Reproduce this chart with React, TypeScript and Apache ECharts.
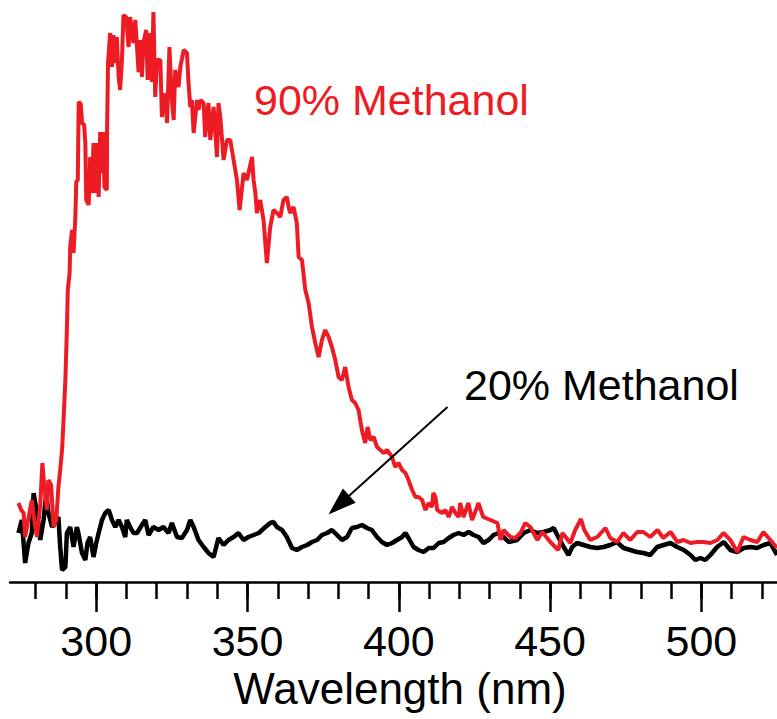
import React, { useEffect, useRef } from "react";
import * as echarts from "echarts";

// Wavelength (nm) and emission intensity (arb. units) — 90% methanol
const wl90 = [274.3, 275.2, 276.0, 276.5, 277.5, 278.7, 279.5, 280.4, 281.5, 282.2, 282.8, 283.7, 284.2, 285.1, 285.9, 286.8, 287.5, 288.1, 288.7, 289.2, 289.8, 290.3, 290.6, 291.2, 291.4, 292.0, 292.5, 293.1, 293.4, 293.9, 294.2, 294.9, 295.3, 296.0, 296.4, 296.7, 297.5, 298.0, 298.6, 299.1, 299.7, 300.4, 300.8, 301.3, 301.9, 302.4, 302.7, 303.5, 303.6, 303.9, 304.6, 305.2, 305.7, 306.3, 306.8, 307.4, 307.9, 308.5, 309.0, 309.9, 310.7, 311.2, 312.3, 312.9, 314.0, 314.5, 315.1, 315.6, 316.5, 317.0, 317.9, 318.4, 318.9, 319.5, 320.1, 321.2, 321.7, 322.8, 323.4, 324.2, 325.0, 325.6, 326.1, 327.2, 327.8, 328.9, 330.0, 330.5, 331.1, 331.6, 332.2, 333.3, 333.8, 334.4, 335.5, 336.0, 337.1, 337.7, 338.8, 339.9, 340.4, 341.0, 342.1, 343.2, 344.3, 345.4, 346.5, 347.4, 348.7, 349.8, 351.5, 352.0, 352.6, 353.1, 354.2, 355.3, 356.4, 357.5, 358.6, 359.7, 360.8, 361.9, 363.0, 363.6, 364.1, 365.2, 366.3, 366.9, 368.0, 369.1, 370.2, 371.3, 372.4, 373.5, 374.6, 375.7, 376.8, 377.9, 379.0, 380.1, 381.2, 382.3, 383.4, 384.5, 385.6, 386.7, 387.8, 388.9, 389.7, 390.6, 391.7, 392.8, 393.9, 395.0, 396.1, 397.8, 398.8, 399.9, 401.1, 402.2, 403.2, 404.4, 405.5, 406.5, 407.7, 408.8, 409.9, 411.0, 411.4, 412.1, 412.7, 414.3, 415.4, 416.5, 417.6, 418.7, 419.8, 420.3, 421.4, 423.0, 424.2, 425.9, 426.3, 427.9, 430.3, 432.6, 433.6, 434.6, 436.9, 438.5, 440.2, 441.8, 443.5, 445.8, 447.4, 450.1, 451.7, 452.7, 454.1, 456.7, 458.3, 460.2, 461.3, 463.3, 465.6, 468.3, 469.9, 472.2, 474.2, 476.5, 478.8, 480.8, 483.1, 485.5, 487.4, 489.8, 492.1, 494.1, 496.4, 498.7, 500.7, 503.0, 505.3, 507.3, 509.6, 511.9, 513.9, 516.2, 518.5, 520.5, 522.8, 525.0];
const int90 = [79, 72, 69, 45, 62, 82, 62, 45, 77, 119, 97, 72, 102, 97, 55, 62, 95, 112, 132, 162, 202, 252, 292, 309, 335, 352, 329, 365, 400, 402, 480, 478, 459, 457, 439, 382, 377, 425, 389, 439, 389, 439, 385, 450, 409, 450, 395, 392, 455, 519, 549, 515, 547, 519, 545, 505, 492, 522, 567, 565, 535, 565, 539, 562, 510, 542, 505, 539, 552, 502, 549, 500, 570, 485, 522, 522, 465, 489, 459, 535, 482, 462, 512, 495, 515, 532, 529, 499, 475, 482, 449, 482, 472, 482, 479, 445, 479, 442, 475, 425, 479, 465, 422, 442, 442, 422, 402, 372, 409, 402, 425, 402, 389, 369, 382, 362, 319, 355, 372, 369, 365, 382, 385, 375, 369, 375, 359, 325, 322, 292, 279, 255, 239, 225, 242, 252, 245, 235, 222, 205, 202, 215, 195, 182, 179, 172, 152, 139, 155, 142, 145, 135, 132, 129, 132, 125, 115, 119, 112, 109, 102, 92, 85, 85, 82, 72, 79, 75, 89, 85, 72, 69, 72, 65, 75, 69, 65, 79, 65, 79, 62, 75, 79, 65, 62, 59, 42, 52, 45, 44, 49, 59, 55, 42, 50, 40, 35, 32, 49, 39, 52, 63, 52, 42, 45, 54, 44, 40, 49, 42, 50, 50, 45, 52, 44, 50, 40, 42, 39, 40, 40, 39, 42, 49, 42, 30, 45, 42, 40, 50, 42, 34];

// 20% methanol
const wl20 = [274.3, 275.4, 276.5, 277.6, 278.7, 279.3, 280.4, 281.5, 282.6, 283.5, 284.2, 285.4, 286.4, 287.5, 288.1, 288.7, 289.8, 290.3, 291.4, 292.5, 293.6, 294.1, 295.3, 296.4, 297.1, 298.0, 299.1, 300.0, 300.8, 301.9, 303.0, 304.1, 305.2, 306.3, 307.4, 308.5, 309.6, 310.1, 311.2, 312.3, 313.5, 315.1, 316.2, 317.3, 318.9, 320.6, 322.2, 323.9, 325.0, 326.7, 328.3, 330.0, 331.1, 332.2, 333.8, 335.5, 337.1, 338.8, 340.4, 342.1, 343.7, 345.4, 347.0, 348.7, 350.3, 352.0, 353.7, 355.9, 357.5, 358.6, 359.7, 361.4, 363.0, 364.7, 366.3, 368.0, 369.7, 371.3, 373.0, 374.6, 376.3, 377.9, 379.6, 381.2, 382.9, 384.5, 386.2, 387.8, 389.5, 391.1, 392.8, 394.4, 396.1, 397.8, 399.4, 401.1, 402.2, 403.2, 404.9, 406.5, 408.2, 409.9, 411.5, 413.2, 414.8, 416.5, 418.1, 419.8, 421.4, 423.1, 424.7, 426.4, 428.0, 429.7, 431.3, 433.0, 434.6, 436.3, 439.1, 441.3, 443.5, 445.7, 447.9, 450.1, 451.2, 452.7, 454.5, 456.1, 457.3, 458.9, 461.1, 463.3, 465.5, 467.7, 469.9, 472.1, 474.3, 476.5, 478.7, 480.9, 483.1, 485.4, 487.5, 489.8, 492.0, 494.2, 496.4, 498.0, 499.7, 501.3, 503.0, 505.2, 507.4, 509.6, 511.8, 514.0, 516.2, 518.4, 520.6, 522.8, 525.0];
const int20 = [49, 62, 19, 39, 49, 89, 69, 42, 62, 89, 69, 55, 59, 65, 35, 12, 15, 49, 55, 35, 55, 49, 29, 22, 39, 45, 25, 39, 49, 62, 69, 72, 62, 55, 62, 55, 45, 62, 55, 49, 49, 57, 62, 47, 55, 52, 55, 49, 59, 45, 44, 52, 62, 55, 42, 35, 29, 25, 44, 37, 42, 45, 49, 42, 45, 47, 49, 55, 59, 60, 55, 52, 45, 34, 32, 35, 37, 40, 42, 47, 49, 52, 47, 42, 45, 54, 55, 57, 54, 52, 45, 40, 37, 39, 42, 45, 49, 44, 35, 32, 30, 34, 34, 39, 40, 44, 47, 49, 47, 50, 47, 45, 39, 42, 47, 49, 45, 40, 42, 49, 52, 49, 50, 52, 54, 45, 35, 27, 35, 39, 37, 35, 34, 35, 37, 40, 34, 32, 30, 29, 27, 35, 37, 39, 35, 32, 27, 22, 24, 22, 27, 35, 40, 32, 30, 34, 35, 34, 37, 39, 27];

// Arrow annotation (tail -> head) in data coordinates
const arrowTail = [416.1, 175];
const arrowHead = [380.2, 77];

const X_MIN = 271.5;
const X_MAX = 525;
const Y_MAX = 572;
const MINOR_MIN = 280;
const MINOR_MAX = 530;
const MINOR_STEP = 10;
const MAJOR_MIN = 300;
const MAJOR_MAX = 550;
const MAJOR_STEP = 50;

const RED = "#ED1C24";
const FONT = '"Liberation Sans", Arial, Helvetica, sans-serif';
const FS = 43;

export default function App() {
  const ref = useRef<HTMLDivElement>(null);

  useEffect(() => {
    document.body.style.margin = "0";
    const chart = echarts.init(ref.current!, null, { renderer: "svg" });
    const W = 777;
    const gl = 10;
    const gr = 0;
    const gt = 10;
    const gb = 137;
    const gw = W - gl - gr;
    const pxPerNm = gw / (X_MAX - X_MIN);
    const px = (nm: number) => gl + (nm - X_MIN) * pxPerNm;

    const tickStyle = { color: "#000", width: 2.5 };

    chart.setOption({
      animation: false,
      grid: [
        { left: gl, right: gr, top: gt, bottom: gb, outerBoundsMode: "none", containLabel: false },
        { left: px(MINOR_MIN), width: (MINOR_MAX - MINOR_MIN) * pxPerNm, top: gt, bottom: gb, outerBoundsMode: "none", containLabel: false },
        { left: px(MAJOR_MIN), width: (MAJOR_MAX - MAJOR_MIN) * pxPerNm, top: gt, bottom: gb, outerBoundsMode: "none", containLabel: false },
      ],
      xAxis: [
        {
          type: "value",
          gridIndex: 0,
          min: X_MIN,
          max: X_MAX,
          axisLine: { show: true, lineStyle: tickStyle },
          axisTick: { show: false },
          axisLabel: { show: false },
          splitLine: { show: false },
        },
        {
          type: "value",
          gridIndex: 1,
          min: MINOR_MIN,
          max: MINOR_MAX,
          interval: MINOR_STEP,
          axisLine: { show: false },
          axisTick: { show: true, length: 17, lineStyle: tickStyle },
          axisLabel: { show: false },
          splitLine: { show: false },
        },
        {
          type: "value",
          gridIndex: 2,
          min: MAJOR_MIN,
          max: MAJOR_MAX,
          interval: MAJOR_STEP,
          axisLine: { show: false },
          axisTick: { show: true, length: 30, lineStyle: tickStyle },
          axisLabel: {
            show: true,
            showMaxLabel: false,
            margin: 37,
            fontSize: FS,
            color: "#000",
            fontFamily: FONT,
            formatter: (v: number) => (v <= X_MAX ? String(v) : ""),
          },
          splitLine: { show: false },
        },
      ],
      yAxis: [
        { type: "value", gridIndex: 0, min: 0, max: Y_MAX, show: false },
        { type: "value", gridIndex: 1, min: 0, max: 1, show: false },
        { type: "value", gridIndex: 2, min: 0, max: 1, show: false },
      ],
      series: [
        {
          type: "line",
          name: "20% Methanol",
          xAxisIndex: 0,
          yAxisIndex: 0,
          data: wl20.map((x, i) => [x, int20[i]]),
          symbol: "none",
          showSymbol: false,
          lineStyle: { color: "#000", width: 4.5 },
          emphasis: { disabled: true },
          markLine: {
            silent: true,
            symbol: ["none", "triangle"],
            symbolSize: [19, 28],
            label: { show: false },
            lineStyle: { color: "#000", width: 2, type: "solid" },
            emphasis: { disabled: true },
            data: [[{ coord: arrowTail }, { coord: arrowHead }]],
          },
        },
        {
          type: "line",
          name: "90% Methanol",
          xAxisIndex: 0,
          yAxisIndex: 0,
          data: wl90.map((x, i) => [x, int90[i]]),
          symbol: "none",
          showSymbol: false,
          lineStyle: { color: RED, width: 4 },
          emphasis: { disabled: true },
        },
      ],
      graphic: [
        {
          type: "text",
          x: 254,
          y: 100,
          style: { text: "90% Methanol", fill: RED, fontSize: FS, fontFamily: FONT, align: "left", verticalAlign: "middle" },
        },
        {
          type: "text",
          x: 464,
          y: 385,
          style: { text: "20% Methanol", fill: "#000", fontSize: FS, fontFamily: FONT, align: "left", verticalAlign: "middle" },
        },
        {
          type: "text",
          x: 400,
          y: 688,
          style: { text: "Wavelength (nm)", fill: "#000", fontSize: 44, fontFamily: FONT, align: "center", verticalAlign: "middle" },
        },
      ],
    });

    return () => chart.dispose();
  }, []);

  return <div ref={ref} style={{ width: 777, height: 719 }} />;
}
